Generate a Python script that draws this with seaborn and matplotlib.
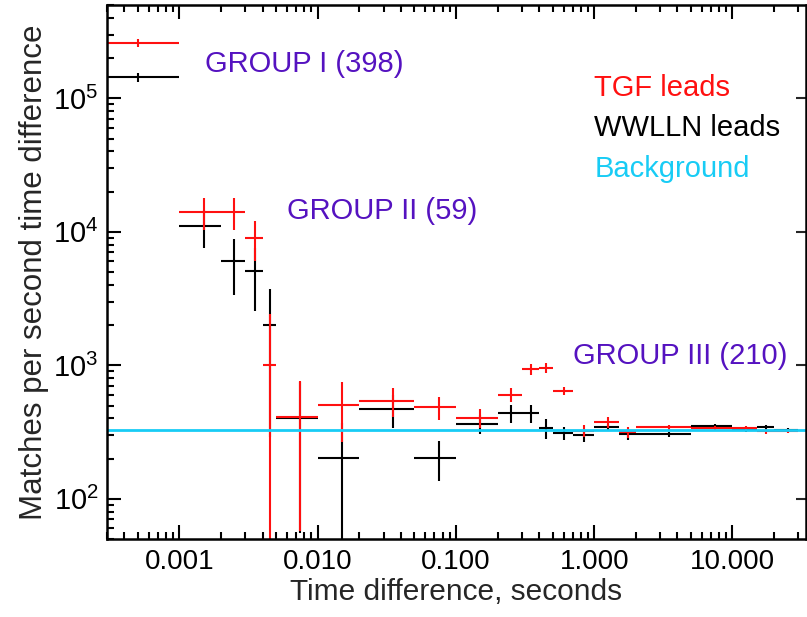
import matplotlib
matplotlib.use("Agg")
import matplotlib.pyplot as plt
import numpy as np
import seaborn as sns
from matplotlib.ticker import LogLocator, FixedLocator, FixedFormatter, NullFormatter

sns.set_theme(style="ticks")
plt.rcParams['font.family'] = ['Liberation Sans', 'DejaVu Sans']
plt.rcParams['mathtext.fontset'] = 'custom'
plt.rcParams['mathtext.rm'] = 'Liberation Sans'

# time-difference bins (seconds)
bin_lo = [0, 0.001, 0.002, 0.003, 0.004, 0.005, 0.01, 0.02, 0.05, 0.1, 0.2,
          0.3, 0.4, 0.5, 0.7, 1.0, 1.5, 2, 5, 10, 15, 20]
bin_hi = [0.001, 0.002, 0.003, 0.004, 0.005, 0.01, 0.02, 0.05, 0.1, 0.2, 0.3,
          0.4, 0.5, 0.7, 1.0, 1.5, 2.0, 5, 10, 15, 20, 30]

# matches per second of time difference
tgf_rate = [2.6e5, 1.41e4, 1.41e4, 9.0e3, 1.0e3, 407, 506, 542, 486, 404, 600,
            938, 954, 647, 323, 377, 316, 344, 340, 340, 320, 323]
tgf_err = [1.7e4, 3800, 3800, 3000, 1430, 350, 240, 135, 97, 67, 73,
           88, 80, 45, 33, 35, 30, 15, 10, 12, 15, 10]
wwlln_rate = [1.44e5, 1.11e4, 6.08e3, 5.06e3, 2.02e3, 400, 202, 472, 203, 365, 437,
              437, 339, 311, 300, 343, 304, 304, 352, 329, 344, 328]
wwlln_err = [1.2e4, 3500, 2700, 2500, 1730, 345, 170, 130, 67, 61, 66,
             66, 57, 37, 35, 20, 30, 12, 10, 12, 12, 10]
background = 330

x_ticks = [0.001, 0.01, 0.1, 1.0, 10.0]
x_labels = ["0.001", "0.010", "0.100", "1.000", "10.000"]
y_ticks = [1e2, 1e3, 1e4, 1e5]
y_labels = [r"$10^2$", r"$10^3$", r"$10^4$", r"$10^5$"]

groups = ["GROUP I (398)", "GROUP II (59)", "GROUP III (210)"]

lo = np.array(bin_lo)
hi = np.array(bin_hi)
xc = (lo + hi) / 2
xerr = [xc - lo, hi - xc]

fig = plt.figure(figsize=(8.07, 6.17), dpi=100)
ax = fig.add_axes([107 / 807, 1 - 539 / 617, 699 / 807, 534 / 617])
ax.set_xscale("log")
ax.set_yscale("log")
ax.set_xlim(3e-4, 34)
ax.set_ylim(50, 5e5)

ax.errorbar(xc, wwlln_rate, xerr=xerr, yerr=wwlln_err, fmt="none",
            ecolor="black", elinewidth=1.5, capsize=0)
ax.errorbar(xc, tgf_rate, xerr=xerr, yerr=tgf_err, fmt="none",
            ecolor="#ff1010", elinewidth=1.5, capsize=0)
ax.axhline(background, color="#18ccf5", lw=2)

purple = "#5512c0"
ax.text(0.140, 0.890, groups[0], transform=ax.transAxes, color=purple,
        fontsize=21, va="center")
ax.text(0.2575, 0.614, groups[1], transform=ax.transAxes, color=purple,
        fontsize=21, va="center")
ax.text(0.667, 0.343, groups[2], transform=ax.transAxes, color=purple,
        fontsize=21, va="center")

ax.text(0.697, 0.845, "TGF leads", transform=ax.transAxes, color="#ff1010",
        fontsize=21, va="center")
ax.text(0.697, 0.770, "WWLLN leads", transform=ax.transAxes, color="black",
        fontsize=21, va="center")
ax.text(0.697, 0.693, "Background", transform=ax.transAxes, color="#18ccf5",
        fontsize=21, va="center")

ax.xaxis.set_major_locator(FixedLocator(x_ticks))
ax.xaxis.set_major_formatter(FixedFormatter(x_labels))
ax.xaxis.set_minor_locator(LogLocator(base=10, subs=np.arange(2, 10), numticks=20))
ax.xaxis.set_minor_formatter(NullFormatter())
ax.yaxis.set_major_locator(FixedLocator(y_ticks))
ax.yaxis.set_major_formatter(FixedFormatter(y_labels))
ax.yaxis.set_minor_locator(LogLocator(base=10, subs=np.arange(2, 10), numticks=20))
ax.yaxis.set_minor_formatter(NullFormatter())

ax.tick_params(which="both", direction="in", top=True, right=False,
               width=1.5, colors="black", labelsize=20)
ax.tick_params(which="major", length=10, pad=7)
ax.tick_params(which="minor", length=5)
ax.tick_params(axis="y", which="major", labelsize=21, pad=6)

# right side: major ticks only
ay = ax.secondary_yaxis("right")
ay.yaxis.set_major_locator(FixedLocator(y_ticks))
ay.yaxis.set_minor_locator(FixedLocator([]))
ay.tick_params(which="major", direction="in", length=7, width=1.5, labelright=False)

for s in ax.spines.values():
    s.set_linewidth(1.8)
    s.set_color("black")
ay.spines["right"].set_visible(False)

ax.set_xlabel("Time difference, seconds", fontsize=21.5, labelpad=2)
ax.set_ylabel("Matches per second time difference", fontsize=22.5, labelpad=3)

fig.savefig("out.png", dpi=100)
